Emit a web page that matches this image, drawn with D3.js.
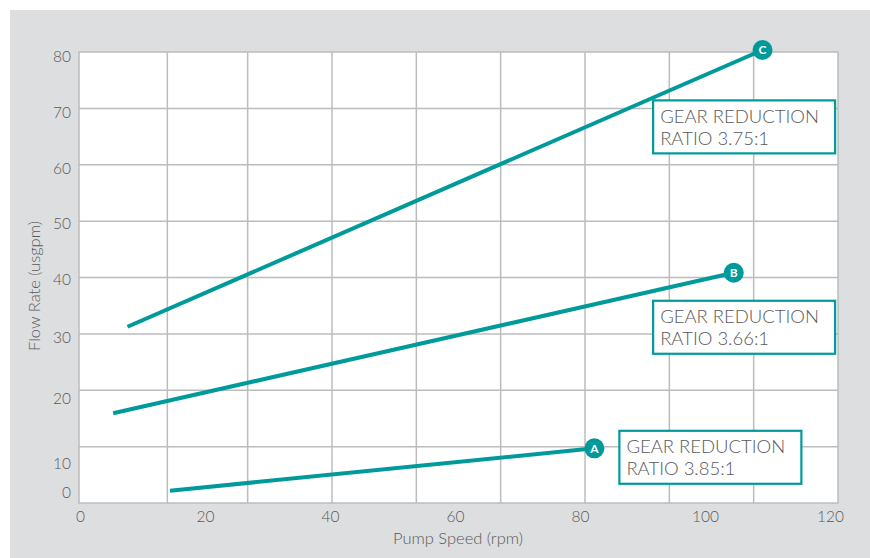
<!DOCTYPE html>
<html>
<head>
<meta charset="utf-8">
<script src="https://cdn.jsdelivr.net/npm/d3@7"></script>
<style>
  html, body { margin: 0; padding: 0; background: #ffffff; }
  svg { display: block; }
  text { font-family: Lato, "Open Sans", sans-serif; font-weight: 300; }
</style>
</head>
<body>
<svg id="chart" width="870" height="558"></svg>
<script>
// ---- data ----
const xTickValues = [0, 20, 40, 60, 80, 100, 120];
const yTickValues = [0, 10, 20, 30, 40, 50, 60, 70, 80];
const seriesNames = ["A", "B", "C"];
const speedStart = [14.4, 5.3, 7.6];     // rpm at line start
const speedEnd   = [82.3, 104.6, 109.2]; // rpm at line end (labelled dot)
const flowStart  = [0.55, 17.7, 31.9];   // usgpm at line start
const flowEnd    = [12.3, 41.3, 81.2];   // usgpm at line end
const ratioLabels = ["RATIO 3.85:1", "RATIO 3.66:1", "RATIO 3.75:1"];
const boxSpeed = [86.3, 91.7, 91.7];     // annotation box anchor (top-left), data units
const boxFlow  = [15.0, 36.4, 72.2];
const xTitle = "Pump Speed (rpm)";
const yTitle = "Flow Rate (usgpm)";

// ---- layout ----
const W = 870, H = 558;
const plot = { left: 79, top: 52, right: 838, bottom: 503 };
const teal = "#009a9b";
const gridColor = "#bcbcbe";
const textColor = "#58595b";

const svg = d3.select("#chart");

// background panel
svg.append("rect").attr("x", 10).attr("y", 10).attr("width", W - 10).attr("height", H - 10)
  .attr("fill", "#dddee0");
svg.append("rect").attr("x", plot.left).attr("y", plot.top)
  .attr("width", plot.right - plot.left).attr("height", plot.bottom - plot.top)
  .attr("fill", "#ffffff");

// scales
const x = d3.scaleLinear().domain([0, 120]).range([80, 830]);
// y-axis labels in the original are unevenly spaced; a piecewise scale reproduces them
const y = d3.scaleLinear().domain(yTickValues)
  .range([492.3, 463.3, 398.3, 337.7, 280, 224, 168.3, 112.7, 56.7]);

// decorative grid (9 columns, 8 rows)
const gx = d3.scaleLinear().domain([0, 9]).range([plot.left, plot.right]);
const gy = d3.scaleLinear().domain([0, 8]).range([plot.bottom, plot.top]);
const grid = svg.append("g").attr("stroke", gridColor).attr("stroke-width", 1.5).attr("fill", "none");
grid.selectAll("line.v").data(d3.range(1, 9)).join("line").attr("class", "v")
  .attr("x1", d => gx(d) + (d === 1 ? 4 : 0)).attr("x2", d => gx(d) + (d === 1 ? 4 : 0))
  .attr("y1", plot.top).attr("y2", plot.bottom);
grid.selectAll("line.h").data(d3.range(1, 8)).join("line").attr("class", "h")
  .attr("x1", plot.left).attr("x2", plot.right)
  .attr("y1", d => gy(d)).attr("y2", d => gy(d));
grid.append("rect").attr("x", plot.left).attr("y", plot.top)
  .attr("width", plot.right - plot.left).attr("height", plot.bottom - plot.top);

// axes (labels only)
const xAxis = svg.append("g").attr("transform", `translate(0,${plot.bottom})`)
  .call(d3.axisBottom(x).tickValues(xTickValues).tickSize(0).tickPadding(19).tickFormat(d3.format("d")));
const yAxis = svg.append("g").attr("transform", `translate(${plot.left},0)`)
  .call(d3.axisLeft(y).tickValues(yTickValues).tickSize(0).tickPadding(8).tickFormat(d3.format("d")));
[xAxis, yAxis].forEach(a => {
  a.select(".domain").remove();
  a.selectAll("text").attr("fill", textColor).style("font-size", "15.5px")
    .style("font-family", "Lato, 'Open Sans', sans-serif").style("font-weight", "300");
});
xAxis.selectAll("text").attr("dy", "0");

// axis titles
svg.append("text").attr("x", 458).attr("y", 544).attr("text-anchor", "middle")
  .attr("fill", textColor).style("font-size", "16.5px").text(xTitle);
svg.append("text").attr("transform", `translate(40,286) rotate(-90)`).attr("text-anchor", "middle")
  .attr("fill", textColor).style("font-size", "16.5px").text(yTitle);

// series lines
const lines = svg.append("g");
seriesNames.forEach((name, i) => {
  lines.append("line")
    .attr("x1", x(speedStart[i])).attr("y1", y(flowStart[i]))
    .attr("x2", x(speedEnd[i])).attr("y2", y(flowEnd[i]))
    .attr("stroke", teal).attr("stroke-width", 4);
});

// annotation boxes
const boxW = 182, boxH = 53;
seriesNames.forEach((name, i) => {
  const bx = x(boxSpeed[i]), by = y(boxFlow[i]);
  const g = svg.append("g").attr("transform", `translate(${bx},${by})`);
  g.append("rect").attr("width", boxW).attr("height", boxH)
    .attr("fill", "#ffffff").attr("stroke", teal).attr("stroke-width", 2.2);
  g.append("text").attr("x", 7).attr("y", 22.5).attr("fill", textColor)
    .style("font-size", "18.5px").text("GEAR REDUCTION");
  g.append("text").attr("x", 7).attr("y", 44.5).attr("fill", textColor)
    .style("font-size", "18.5px").text(ratioLabels[i]);
});

// end dots with letters
seriesNames.forEach((name, i) => {
  const cx = x(speedEnd[i]), cy = y(flowEnd[i]);
  svg.append("circle").attr("cx", cx).attr("cy", cy).attr("r", 10).attr("fill", teal);
  svg.append("text").attr("x", cx).attr("y", cy).attr("dy", "0.36em").attr("text-anchor", "middle")
    .attr("fill", "#ffffff").style("font-size", "12px").style("font-weight", "bold").text(name);
});
</script>
</body>
</html>
